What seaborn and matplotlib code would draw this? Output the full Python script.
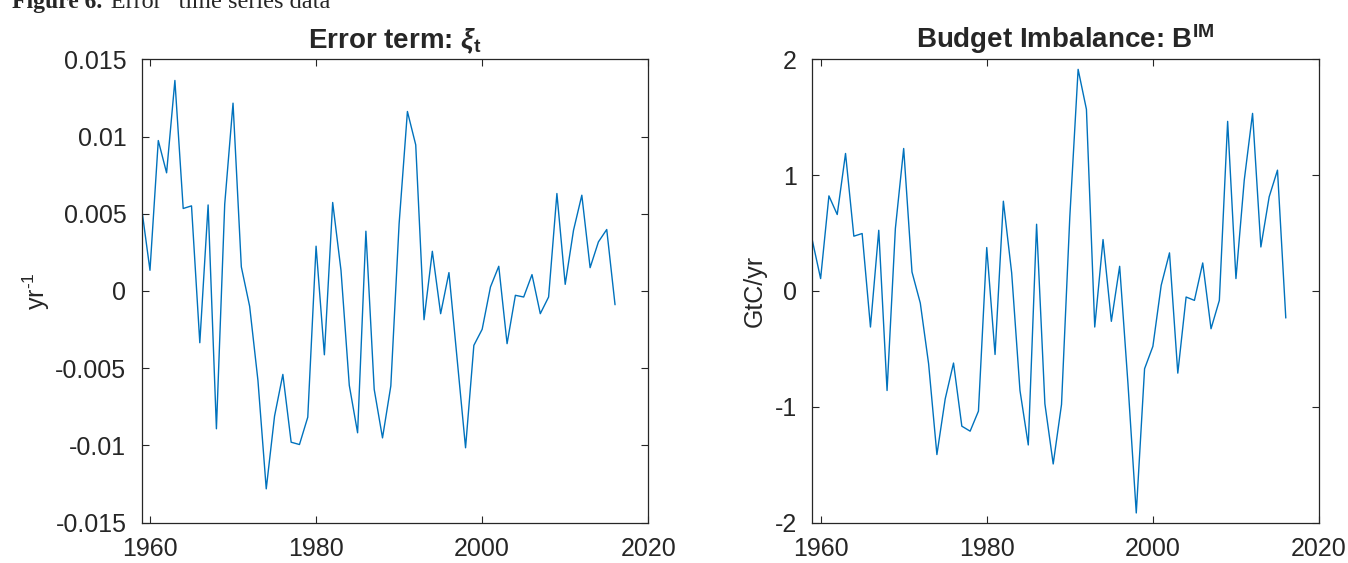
import numpy as np
import pandas as pd
import matplotlib
matplotlib.use("Agg")
import matplotlib.pyplot as plt
import seaborn as sns

years = list(range(1959, 2017))

error_term = [
    0.00534, 0.00134, 0.00974, 0.00765, 0.01363, 0.00534, 0.00551, -0.00335,
    0.00557, -0.00892, 0.00562, 0.01216, 0.00156, -0.00099, -0.00579, -0.01281,
    -0.00810, -0.00540, -0.00979, -0.00994, -0.00817, 0.00290, -0.00413, 0.00573,
    0.00134, -0.00611, -0.00918, 0.00387, -0.00637, -0.00951, -0.00615, 0.00436,
    0.01162, 0.00946, -0.00186, 0.00257, -0.00147, 0.00119, -0.00449, -0.01015,
    -0.00352, -0.00248, 0.00026, 0.00160, -0.00341, -0.00028, -0.00039, 0.00106,
    -0.00147, -0.00039, 0.00631, 0.00043, 0.00393, 0.00620, 0.00151, 0.00318,
    0.00398, -0.00089,
]

budget_imbalance = [
    0.438, 0.107, 0.821, 0.660, 1.187, 0.473, 0.496, -0.311,
    0.524, -0.859, 0.539, 1.230, 0.164, -0.104, -0.628, -1.412,
    -0.931, -0.622, -1.167, -1.210, -1.037, 0.375, -0.548, 0.775,
    0.156, -0.859, -1.329, 0.576, -0.974, -1.493, -0.980, 0.640,
    1.913, 1.568, -0.311, 0.444, -0.262, 0.213, -0.800, -1.916,
    -0.671, -0.478, 0.049, 0.329, -0.709, -0.052, -0.081, 0.242,
    -0.326, -0.081, 1.464, 0.107, 0.957, 1.533, 0.380, 0.813,
    1.043, -0.233,
]

x_ticks = [1960, 1980, 2000, 2020]
left_yticks = [-0.015, -0.01, -0.005, 0, 0.005, 0.01, 0.015]
left_yticklabels = ["-0.015", "-0.01", "-0.005", "0", "0.005", "0.01", "0.015"]
right_yticks = [-2, -1, 0, 1, 2]
right_yticklabels = ["-2", "-1", "0", "1", "2"]

sns.set_style("ticks")
plt.rcParams["font.family"] = ["Liberation Sans", "DejaVu Sans"]
plt.rcParams["mathtext.fontset"] = "custom"
plt.rcParams["mathtext.rm"] = "Liberation Sans"
plt.rcParams["mathtext.it"] = "Liberation Sans:italic:bold"
plt.rcParams["mathtext.bf"] = "Liberation Sans:bold"

df = pd.DataFrame({"year": years, "err": error_term, "bim": budget_imbalance})

fig = plt.figure(figsize=(13.48, 5.63), dpi=100)
ax1 = fig.add_axes([0.1051, 0.0716, 0.3758, 0.8231])
ax2 = fig.add_axes([0.6026, 0.0716, 0.3759, 0.8231])

line_color = "#0072BD"
axis_color = "#262626"

for ax, col, yt, ytl, ylim, title, ylabel, lpad in [
    (ax1, "err", left_yticks, left_yticklabels, (-0.015, 0.015),
     r"Error term: $\xi_\mathbf{t}$", r"yr$^{\mathrm{\text{-}1}}$", 2),
    (ax2, "bim", right_yticks, right_yticklabels, (-2, 2),
     r"Budget Imbalance: B$^{\mathbf{IM}}$", "GtC/yr", 6),
]:
    sns.lineplot(data=df, x="year", y=col, ax=ax, color=line_color, linewidth=1.0)
    ax.set_xlim(1959, 2020)
    ax.set_ylim(*ylim)
    ax.set_xticks(x_ticks)
    ax.set_xticklabels([str(t) for t in x_ticks])
    ax.set_yticks(yt)
    ax.set_yticklabels(ytl)
    ax.set_xlabel("")
    ax.set_ylabel(ylabel, fontsize=18, color=axis_color, labelpad=lpad)
    ax.set_title(title, fontsize=20, fontweight="bold", pad=8)
    for s in ax.spines.values():
        s.set_visible(True)
        s.set_color(axis_color)
        s.set_linewidth(0.9)
    ax.tick_params(direction="in", length=5, width=0.8, top=True, right=True,
                   labelsize=18, colors=axis_color, pad=11)
    ax.tick_params(axis="x", pad=10)

fig.text(12 / 1348, 1 - 8 / 563, "Figure 6.", fontsize=17, fontweight="bold",
         family=["Liberation Serif", "DejaVu Serif"], va="baseline", ha="left")
fig.text(100 / 1348, 1 - 8 / 563, "\u201cError\u201d time series data", fontsize=17.5,
         family=["Liberation Serif", "DejaVu Serif"], va="baseline", ha="left")

fig.savefig("out.png", dpi=100)
